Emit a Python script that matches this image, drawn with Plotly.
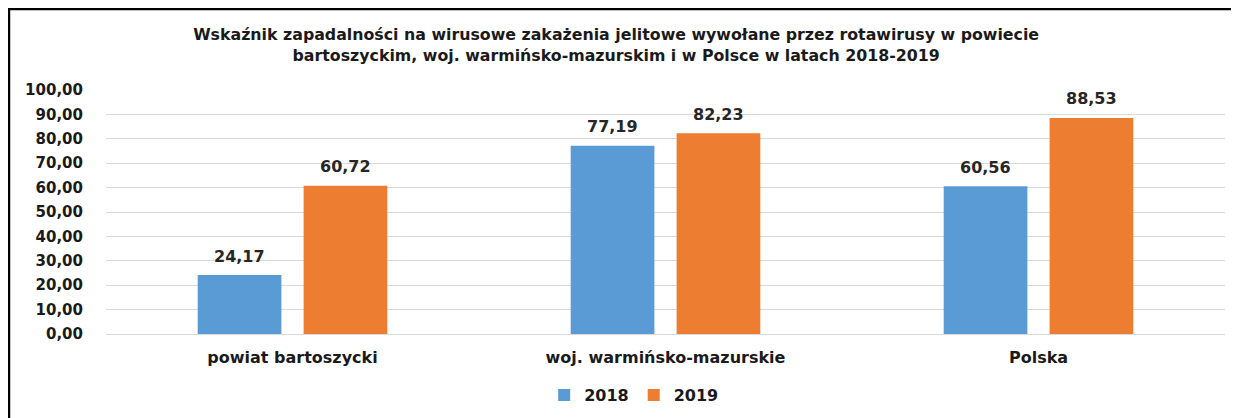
import plotly.graph_objects as go

categories = ["powiat bartoszycki", "woj. warmińsko-mazurskie", "Polska"]
years = ["2018", "2019"]
values_2018 = [24.17, 77.19, 60.56]
values_2019 = [60.72, 82.23, 88.53]
colors = ["#5B9BD5", "#ED7D31"]
title_text = ("Wskaźnik zapadalności na wirusowe zakażenia jelitowe wywołane przez rotawirusy w powiecie<br>"
              "bartoszyckim, woj. warmińsko-mazurskim i w Polsce w latach 2018-2019")

FONT = "DejaVu Sans"
fig = go.Figure()
for yr, vals, col in zip(years, [values_2018, values_2019], colors):
    fig.add_trace(go.Bar(name=yr, x=categories, y=vals, marker=dict(color=col, line=dict(width=0))))

# data labels above bars
for vals, shift in [(values_2018, -53), (values_2019, 53)]:
    for c, v in zip(categories, vals):
        fig.add_annotation(x=c, y=v, xref="x", yref="y", text=f"{v:.2f}".replace(".", ","),
                           showarrow=False, xshift=shift, yshift=19,
                           font=dict(family=FONT, size=16, color="#262626", weight="bold"))

# outer frame
fig.add_shape(type="rect", xref="paper", yref="paper", x0=-0.0867, x1=1.03, y0=-0.5, y1=1.332,
              line=dict(color="black", width=2.5), fillcolor="rgba(0,0,0,0)", layer="above")

fig.update_layout(
    width=1231, height=410,
    margin=dict(l=98, r=14, t=82, b=84, autoexpand=False),
    paper_bgcolor="white", plot_bgcolor="white",
    separators=", ",
    barmode="group", bargap=0.432, bargroupgap=0.21,
    title=dict(text=title_text, x=0.494, xanchor="center", y=1 - 32 / 410, yanchor="middle",
               yref="container", font=dict(family=FONT, size=15.8, color="#1a1a1a", weight="bold")),
    xaxis=dict(showgrid=False, showline=False, ticks="", ticklabelstandoff=12, automargin=False,
               tickfont=dict(family=FONT, size=16, color="#1a1a1a", weight="bold")),
    yaxis=dict(range=[0, 100], dtick=10, tickformat=".2f", showgrid=True, gridcolor="#D9D9D9",
               gridwidth=1, zeroline=True, zerolinecolor="#D9D9D9", zerolinewidth=1,
               ticks="", ticklabelstandoff=22, automargin=False,
               tickfont=dict(family=FONT, size=15, color="#1a1a1a", weight="bold")),
    legend=dict(orientation="h", x=0.472, xanchor="center", y=-0.25, yanchor="middle",
                font=dict(family=FONT, size=16, color="#1a1a1a", weight="bold"), itemwidth=30),
)

fig.write_html("out.html")
